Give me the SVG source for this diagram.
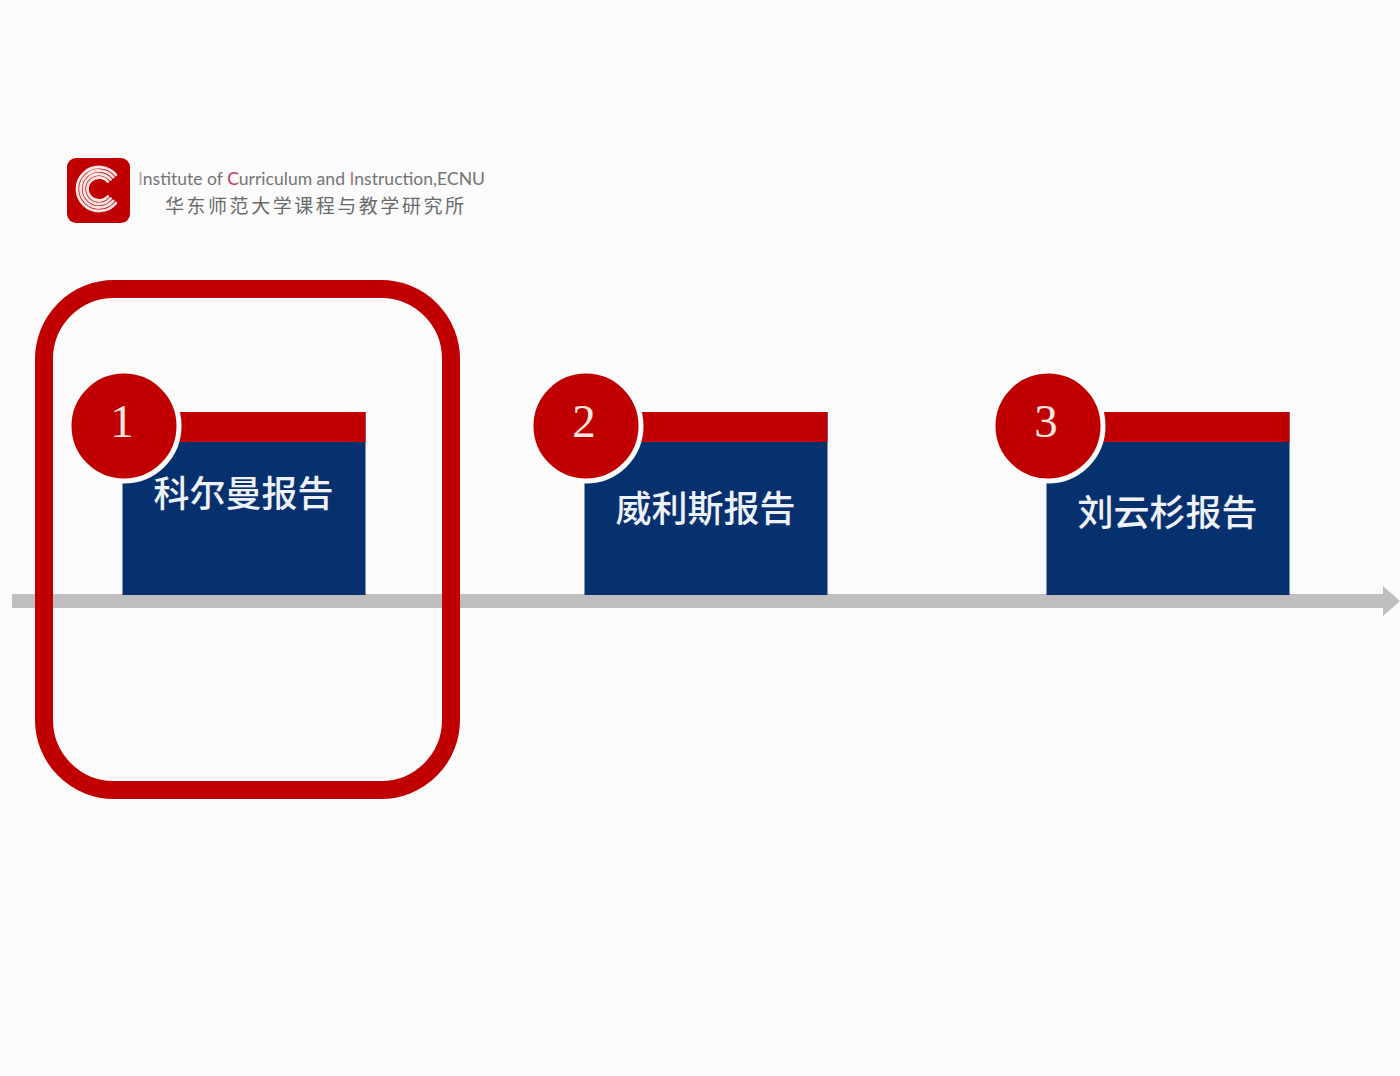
<svg xmlns="http://www.w3.org/2000/svg" width="1400" height="1076" viewBox="0 0 1400 1076">
<style>
.box{fill:#07306f}
.bar{fill:#c00000}
.circ{fill:#c00000;stroke:#fcfcfc;stroke-width:5}
.num{font-family:"Liberation Serif",serif;font-size:47px;fill:#f5e6e0;text-anchor:middle}
.lab{font-family:"Noto Sans CJK SC",sans-serif;font-weight:500;font-size:36px;fill:#eef2f6;text-anchor:middle}
.ring{fill:none;stroke:#f8e4e4;stroke-width:2.800}
</style>
<rect width="1400" height="1076" fill="#fbfbfb"/>
<g id="connectors">
<path d="M12 594H1383V586L1400 601L1383 616V608H12Z" fill="#bfbfbf"/>
</g>
<g id="logo">
<rect x="67" y="158" width="63" height="65" rx="9" fill="#c00000"/>
<g class="ring" stroke-linecap="round">
<path d="M115.900 174.900A22 22 0 1 0 115.900 203.100"/>
<path d="M113.200 177.100A18.500 18.500 0 1 0 113.200 200.900"/>
<path d="M110.500 179.400A15 15 0 1 0 110.500 198.600"/>
<path d="M107.800 181.600A11.500 11.500 0 1 0 107.800 196.400"/>
</g>
<text x="138" y="185" font-family="Lato,'Open Sans',sans-serif" font-size="17.500" fill="#747474" textLength="347" lengthAdjust="spacingAndGlyphs"><tspan fill="#b9a3ad">I</tspan>nstitute of <tspan fill="#c8365a">C</tspan>urriculum and <tspan fill="#b9738c">I</tspan>nstruction,ECNU</text>
<text x="165" y="213" font-family="'Noto Sans CJK SC',sans-serif" font-size="19px" fill="#6a6a6a" textLength="299">华东师范大学课程与教学研究所</text>
</g>
<g id="node-1">
<rect class="box" x="122.500" y="412" width="243" height="183"/>
<rect class="bar" x="122.500" y="412" width="243" height="30"/>
<circle class="circ" cx="124" cy="426" r="55"/>
<text class="num" x="122" y="437">1</text>
<text class="lab" x="243.500" y="507">科尔曼报告</text>
</g>
<g id="node-2">
<rect class="box" x="584.500" y="412" width="243" height="183"/>
<rect class="bar" x="584.500" y="412" width="243" height="30"/>
<circle class="circ" cx="586" cy="426" r="55"/>
<text class="num" x="584" y="437">2</text>
<text class="lab" x="705.500" y="522">威利斯报告</text>
</g>
<g id="node-3">
<rect class="box" x="1046.500" y="412" width="243" height="183"/>
<rect class="bar" x="1046.500" y="412" width="243" height="30"/>
<circle class="circ" cx="1048" cy="426" r="55"/>
<text class="num" x="1046" y="437">3</text>
<text class="lab" x="1167.500" y="526">刘云杉报告</text>
</g>
<g id="highlight">
<rect x="44" y="289" width="407" height="501" rx="70" fill="none" stroke="#c00000" stroke-width="18"/>
</g>
</svg>
